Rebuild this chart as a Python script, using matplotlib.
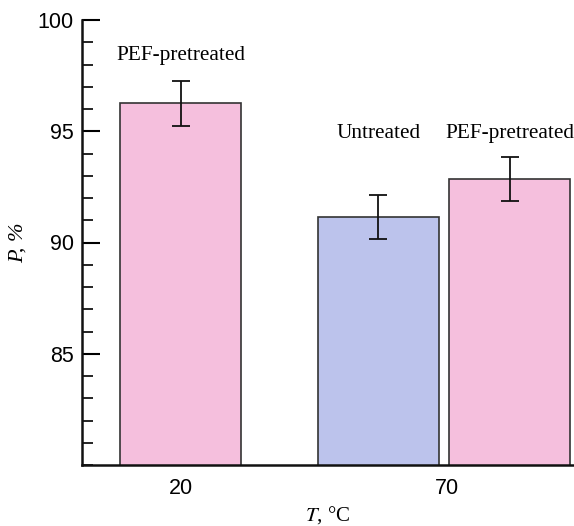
import matplotlib
matplotlib.use("Agg")
import matplotlib.pyplot as plt
from matplotlib.ticker import MultipleLocator

plt.rcParams["mathtext.fontset"] = "stix"

temps = ["20", "70"]
labels = ["PEF-pretreated", "Untreated", "PEF-pretreated"]
temp_of_bar = ["20", "70", "70"]
values = [96.25, 91.15, 92.85]
errors = [1.0, 1.0, 1.0]
colors = ["#F5BFDD", "#BCC3EC", "#F5BFDD"]

fig = plt.figure(figsize=(5.74, 5.26), dpi=100)
W, H = 574, 526
ax = fig.add_axes([82 / W, 1 - 465 / H, (573 - 82) / W, (465 - 20) / H])

width = 1.0
positions = [0.0, 1.628, 2.711]
ax.bar(positions, values, width=width, color=colors, edgecolor="#333333",
       linewidth=1.2, zorder=2)
ax.errorbar(positions, values, yerr=errors, fmt="none", ecolor="#111111",
            elinewidth=1.3, capsize=6.5, capthick=1.3, zorder=3)

serif = ["Liberation Serif", "DejaVu Serif"]
sans = ["Liberation Sans", "DejaVu Sans"]
text_y = [98.4, 94.9, 94.9]
for p, lab, ty in zip(positions, labels, text_y):
    ax.text(p, ty, lab, ha="center", va="center", fontsize=15.3, family=serif)

ax.set_ylim(80, 100)
ax.set_xlim(-0.814, 3.232)
ax.yaxis.set_minor_locator(MultipleLocator(1))
ax.set_yticks([85, 90, 95, 100])
ax.set_yticklabels(["85", "90", "95", "100"], family=sans, fontsize=15.5)

tick_pos = [positions[0], (positions[1] + positions[2]) / 2 + 0.02]
ax.set_xticks(tick_pos)
ax.set_xticklabels(temps, family=sans, fontsize=15.5)
ax.tick_params(axis="x", length=0, pad=9)
ax.tick_params(axis="y", which="major", direction="in", length=13, width=1.5, pad=6)
ax.tick_params(axis="y", which="minor", direction="in", length=8, width=1.2)

for s in ["top", "right"]:
    ax.spines[s].set_visible(False)
for s in ["left", "bottom"]:
    ax.spines[s].set_linewidth(1.8)
    ax.spines[s].set_color("#111111")

ax.set_xlabel(r"$T$, °C", fontsize=15, family=serif, labelpad=4)
ax.set_ylabel("P, %", fontsize=16, family=serif, style="italic", labelpad=7)

fig.savefig("out.png", dpi=100)
